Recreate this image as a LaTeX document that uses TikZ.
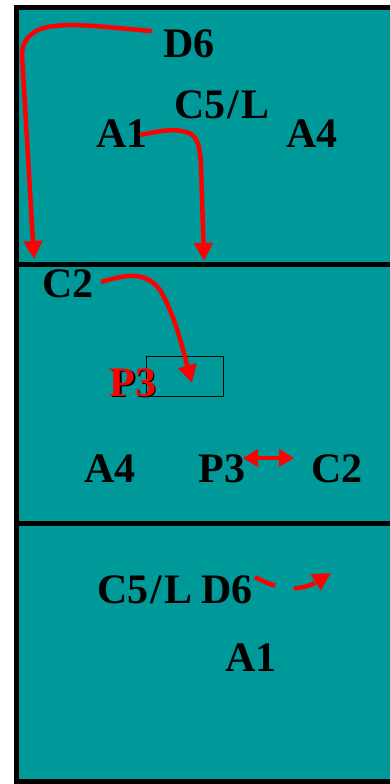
\documentclass[tikz,border=0pt]{standalone}
\usepackage{fontspec}
\setmainfont{Liberation Serif}
\usetikzlibrary{arrows.meta}
\definecolor{teal1}{RGB}{0,153,153}
\definecolor{red1}{RGB}{255,0,0}
\begin{document}
\begin{tikzpicture}[x=1pt,y=-1pt,
 lbl/.style={anchor=base,inner sep=0pt,font=\fontsize{42}{44}\selectfont\bfseries},
 redarrow/.style={draw=red1,line width=4.5pt,-{Triangle[length=18pt,width=18pt]}},
 dblarrow/.style={draw=red1,line width=4.5pt,{Triangle[length=15pt,width=17pt]}-{Triangle[length=15pt,width=17pt]}},
 panelline/.style={line width=5pt},
 ]
\useasboundingbox (0,0) rectangle (390,784);
\clip (0,0) rectangle (390,784);
\draw[panelline, fill=teal1] (16,7.5) rectangle (400,781.5);
\draw[panelline] (16,264) -- (400,264);
\draw[panelline] (16,523.5) -- (400,523.5);
% panel 1
\node[lbl] (d6a) at (189,57) {D6};
\node[lbl] (c5a) at (222,118) {C5\kern2pt/\kern2pt L};
\node[lbl] (a1a) at (122,147) {A1};
\node[lbl] (a4a) at (312,147) {A4};
\coordinate (d6s) at (152,31);
\coordinate (t1) at (34,259);
\coordinate (a1s) at (140,135);
\coordinate (t2) at (204,261);
\draw[redarrow] (d6s) .. controls (110,28) and (60,20) .. (38,30) .. controls (26,36) and (22,45) .. (22,55) -- (t1);
\draw[redarrow] (a1s) .. controls (160,131) and (178,127) .. (191,134) .. controls (199,140) and (200,150) .. (201,165) -- (t2);
% panel 2
\node[lbl] (c2a) at (68,297) {C2};
\node[draw, line width=1pt, minimum width=77pt, minimum height=40pt, inner sep=0pt] (box) at (184.5,376) {};
\node[lbl, text=black] (p3sh) at (134.5,397.5) {P3};
\node[lbl, text=red1] (p3r) at (133,396) {P3};
\coordinate (c2s) at (101,282);
\coordinate (t3) at (192,383);
\draw[redarrow] (c2s) .. controls (125,275) and (145,270) .. (160,290) .. controls (175,315) and (183,350) .. (t3);
\node[lbl] (a4b) at (110,482) {A4};
\node[lbl] (p3b) at (222,482) {P3};
\node[lbl] (c2b) at (337,482) {C2};
\coordinate (dbl1) at (243,458);
\coordinate (dbl2) at (294,458);
\draw[dblarrow] (dbl1) -- (dbl2);
% panel 3
\node[lbl] (c5b) at (145,603) {C5\kern2pt/\kern2pt L};
\node[lbl] (d6b) at (227,603) {D6};
\node[lbl] (a1b) at (251,671) {A1};
\coordinate (d6e) at (255,577);
\coordinate (t4) at (331,573);
\draw[redarrow, dash pattern=on 22pt off 19pt] (d6e) .. controls (278,590) and (300,592) .. (t4);
\end{tikzpicture}
\end{document}
